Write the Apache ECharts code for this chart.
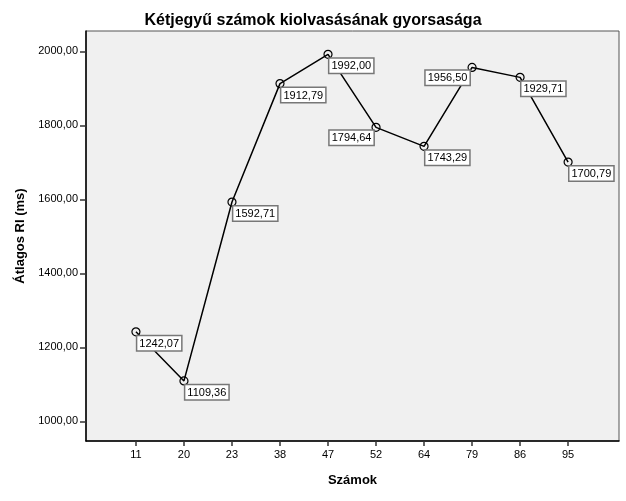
<!DOCTYPE html>
<html>
<head>
<meta charset="utf-8">
<script src="https://cdn.jsdelivr.net/npm/echarts@6/dist/echarts.min.js"></script>
<style>
  html, body { margin: 0; padding: 0; background: #fff; }
  #main { width: 626px; height: 501px; }
</style>
</head>
<body>
<div id="main"></div>
<script>
// kategóriák és átlagos RI értékek
let szamok = ['11', '20', '23', '38', '47', '52', '64', '79', '86', '95'];
let atlagRI = [1242.07, 1109.36, 1592.71, 1912.79, 1992.00, 1794.64, 1743.29, 1956.50, 1929.71, 1700.79];
let yTicks = [1000, 1200, 1400, 1600, 1800, 2000];
// ezek a címkék a pont bal oldalán vannak
let leftLabels = ['52', '79'];

function fmt(v) {
    return v.toFixed(2).replace('.', ',');
}

let myChart = echarts.init(document.getElementById('main'));

let seriesData = [];
for (let i = 0; i < szamok.length; i++) {
    let item = { value: [i, atlagRI[i]] };
    if (leftLabels.indexOf(szamok[i]) >= 0) {
        item.label = { position: [2, 8], align: 'right' };
    }
    seriesData.push(item);
}

let option = {
    backgroundColor: '#fff',
    animation: false,
    title: {
        text: 'Kétjegyű számok kiolvasásának gyorsasága',
        left: 'center',
        top: 8,
        textStyle: {
            fontFamily: 'Liberation Sans, Arial, sans-serif',
            fontSize: 16,
            fontWeight: 'bold',
            color: '#000'
        }
    },
    grid: {
        left: 86,
        right: 7,
        top: 31,
        bottom: 60,
        show: true,
        backgroundColor: '#f0f0f0',
        borderColor: '#555',
        borderWidth: 1
    },
    xAxis: {
        type: 'value',
        min: -1.04,
        max: 10.06,
        name: 'Számok',
        nameLocation: 'middle',
        nameGap: 33,
        nameTextStyle: {
            fontFamily: 'Liberation Sans, Arial, sans-serif',
            fontSize: 13,
            fontWeight: 'bold',
            color: '#000'
        },
        splitLine: { show: false },
        axisLine: { show: true, onZero: false, lineStyle: { color: '#000', width: 1.5 } },
        axisTick: {
            show: true,
            length: 5,
            customValues: szamok.map((s, i) => i),
            lineStyle: { color: '#333', width: 1.5 }
        },
        axisLabel: {
            customValues: szamok.map((s, i) => i),
            formatter: (v) => szamok[v],
            fontFamily: 'Liberation Sans, Arial, sans-serif',
            fontSize: 11,
            color: '#000',
            margin: 8
        }
    },
    yAxis: {
        type: 'value',
        min: 947,
        max: 2055,
        name: 'Átlagos RI (ms)',
        nameLocation: 'middle',
        nameGap: 58,
        nameTextStyle: {
            fontFamily: 'Liberation Sans, Arial, sans-serif',
            fontSize: 13,
            fontWeight: 'bold',
            color: '#000'
        },
        splitLine: { show: false },
        axisLine: { show: true, onZero: false, lineStyle: { color: '#000', width: 1.5 } },
        axisTick: {
            show: true,
            length: 6,
            customValues: yTicks,
            lineStyle: { color: '#333', width: 1.5 }
        },
        axisLabel: {
            customValues: yTicks,
            formatter: (v) => fmt(v),
            fontFamily: 'Liberation Sans, Arial, sans-serif',
            fontSize: 11,
            color: '#000',
            margin: 8
        }
    },
    series: [
        {
            type: 'line',
            data: seriesData,
            symbol: 'circle',
            symbolSize: 8,
            lineStyle: { color: '#000', width: 1.5 },
            itemStyle: { color: 'rgba(240,240,240,0)', borderColor: '#000', borderWidth: 1.2 },
            label: {
                show: true,
                position: [6, 9],
                formatter: (p) => fmt(p.value[1]),
                fontFamily: 'Liberation Sans, Arial, sans-serif',
                fontSize: 11,
                color: '#000',
                backgroundColor: '#fff',
                borderColor: '#777',
                borderWidth: 1.5,
                padding: [2, 2, 1, 2]
            },
            z: 3
        }
    ]
};

myChart.setOption(option);
</script>
</body>
</html>
